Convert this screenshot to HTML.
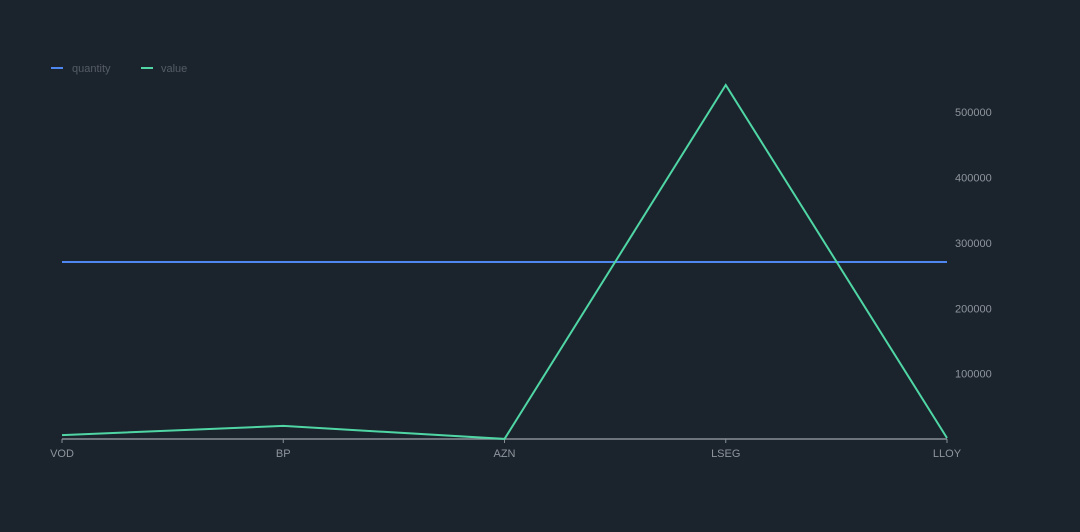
<!DOCTYPE html>
<html><head><meta charset="utf-8"><style>
html,body{margin:0;padding:0;background:#1b232d;}
svg{display:block;font-family:"Liberation Sans",sans-serif;}
</style></head><body>
<svg id="chart" width="1080" height="532" viewBox="0 0 1080 532">
<rect width="1080" height="532" fill="#1b232d"/>
<g>
<g><line x1="51" y1="68" x2="63" y2="68" stroke="#4f87f0" stroke-width="2"/><text x="72" y="72" font-size="11" fill="#555c66">quantity</text></g>
<g><line x1="141" y1="68" x2="153" y2="68" stroke="#4fd6a4" stroke-width="2"/><text x="161" y="72" font-size="11" fill="#555c66">value</text></g>
</g>
<g id="axes"></g>
<g id="series"></g>
</svg>
<script>
const categories=["VOD","BP","AZN","LSEG","LLOY"];
const quantityValues=[100,100,100,100,100];
const valueValues=[6000,20000,100,541500,1500];
const yTicks=[100000,200000,300000,400000,500000];
const NS="http://www.w3.org/2000/svg";
const L=62,R=947,T=85,B=439;
const x=i=>L+i*(R-L)/(categories.length-1);
const vmax=Math.max(...valueValues);
const yV=v=>B-v/vmax*(B-T);
const qmin=Math.min(...quantityValues),qmax=Math.max(...quantityValues);
const yQ=v=>qmax===qmin?(T+B)/2:B-(v-qmin)/(qmax-qmin)*(B-T);
function mk(t,a,p){const e=document.createElementNS(NS,t);for(const k in a)e.setAttribute(k,a[k]);p.appendChild(e);return e;}
const axes=document.getElementById('axes'),series=document.getElementById('series');
const ax=mk('line',{x1:L,y1:B,x2:R,y2:B,stroke:'#8a8f96','stroke-width':1.5},axes);


categories.forEach((c,i)=>{
 const tk=mk('line',{x1:x(i),y1:B,x2:x(i),y2:B+4,stroke:'#8a8f96'},axes);
 
 
 const t=mk('text',{x:x(i),y:B+18,'font-size':11,fill:'#8f959c','text-anchor':'middle'},axes);
 t.textContent=c;
 
 
});
yTicks.forEach(v=>{
 const t=mk('text',{x:955,y:yV(v)+4,'font-size':11,fill:'#8f959c'},axes);
 t.textContent=v;
 
 
});
const q=mk('polyline',{points:quantityValues.map((v,i)=>x(i)+','+yQ(v)).join(' '),fill:'none',stroke:'#4f87f0','stroke-width':2},series);


const vl=mk('polyline',{points:valueValues.map((v,i)=>x(i)+','+yV(v)).join(' '),fill:'none',stroke:'#4fd6a4','stroke-width':2},series);


</script>
</body></html>
